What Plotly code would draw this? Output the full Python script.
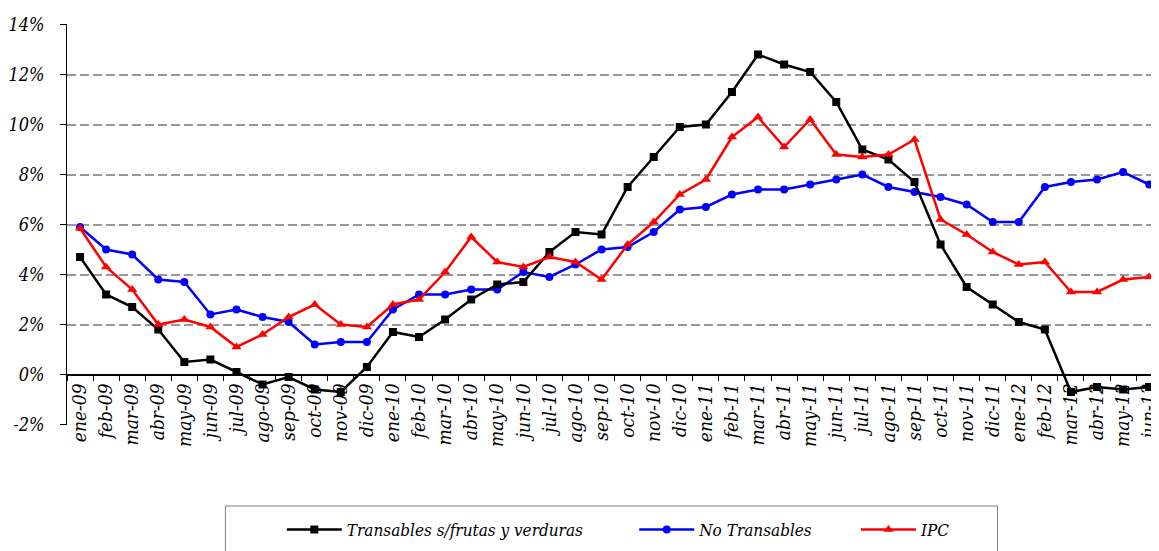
import plotly.graph_objects as go

months = ["ene", "feb", "mar", "abr", "may", "jun", "jul", "ago", "sep", "oct", "nov", "dic"]
categories = [f"{m}-{y}" for y in ["09", "10", "11", "12"] for m in months][:42]

transables = [4.7, 3.2, 2.7, 1.8, 0.5, 0.6, 0.1, -0.4, -0.1, -0.6, -0.7, 0.3,
              1.7, 1.5, 2.2, 3.0, 3.6, 3.7, 4.9, 5.7, 5.6, 7.5, 8.7, 9.9,
              10.0, 11.3, 12.8, 12.4, 12.1, 10.9, 9.0, 8.6, 7.7, 5.2, 3.5, 2.8,
              2.1, 1.8, -0.7, -0.5, -0.6, -0.5]
no_transables = [5.9, 5.0, 4.8, 3.8, 3.7, 2.4, 2.6, 2.3, 2.1, 1.2, 1.3, 1.3,
                 2.6, 3.2, 3.2, 3.4, 3.4, 4.1, 3.9, 4.4, 5.0, 5.1, 5.7, 6.6,
                 6.7, 7.2, 7.4, 7.4, 7.6, 7.8, 8.0, 7.5, 7.3, 7.1, 6.8, 6.1,
                 6.1, 7.5, 7.7, 7.8, 8.1, 7.6]
ipc = [5.85, 4.3, 3.4, 2.0, 2.2, 1.9, 1.1, 1.6, 2.3, 2.8, 2.0, 1.9,
       2.8, 3.0, 4.1, 5.5, 4.5, 4.3, 4.7, 4.5, 3.8, 5.2, 6.1, 7.2,
       7.8, 9.5, 10.3, 9.1, 10.2, 8.8, 8.7, 8.8, 9.4, 6.2, 5.6, 4.9,
       4.4, 4.5, 3.3, 3.3, 3.8, 3.9]

y_ticks = [-2, 0, 2, 4, 6, 8, 10, 12, 14]
y_tick_labels = ["-2%", "0%", "2%", "4%", "6%", "8%", "10%", "12%", "14%"]

FONT = "DejaVu Serif Condensed, DejaVu Serif"

# the page body has an 8px margin; compensate so the plot area lands at x 64..1159, y 24..425
W, H = 1151, 543
ML, MT, MR = 56, 16, 0
PW = W - ML - MR
PH = 401
MB = H - MT - PH

def px_x(x):
    return (x - 8 - ML) / PW

def px_y(y):
    return (MT + PH - (y - 8)) / PH

fig = go.Figure()
fig.add_trace(go.Scatter(
    x=categories, y=no_transables, name="No Transables", mode="lines+markers",
    line=dict(color="#0000FF", width=2.5), marker=dict(symbol="circle", size=8, color="#0000FF"),
    legend="legend2"))
fig.add_trace(go.Scatter(
    x=categories, y=transables, name="Transables s/frutas y verduras", mode="lines+markers",
    line=dict(color="#000000", width=2.5), marker=dict(symbol="square", size=8, color="#000000"),
    legend="legend"))
fig.add_trace(go.Scatter(
    x=categories, y=ipc, name="IPC", mode="lines+markers",
    line=dict(color="#FF0000", width=2.5), marker=dict(symbol="triangle-up", size=9, color="#FF0000"),
    legend="legend3"))

legend_common = dict(orientation="h", xanchor="left", yanchor="middle", y=px_y(530),
                     bgcolor="rgba(0,0,0,0)", borderwidth=0, itemwidth=55,
                     font=dict(family=FONT, size=17, color="black", style="italic"))

fig.update_layout(
    width=W, height=H,
    margin=dict(l=ML, r=MR, t=MT, b=MB, pad=0),
    paper_bgcolor="white", plot_bgcolor="white",
    showlegend=True,
    legend=dict(x=px_x(281), **legend_common),
    legend2=dict(x=px_x(637), **legend_common),
    legend3=dict(x=px_x(861), **legend_common),
    xaxis=dict(
        type="category", range=[-0.5, 41.07],
        anchor="free", position=0.125,
        showline=True, linecolor="black", linewidth=1,
        ticks="outside", ticklen=5, tickcolor="black", tickson="boundaries",
        tickangle=-90, showgrid=False, zeroline=False,
        tickfont=dict(family=FONT, size=19, color="black", style="italic"),
    ),
    yaxis=dict(
        range=[-2.02, 14.02], tickmode="array", tickvals=y_ticks, ticktext=y_tick_labels,
        showline=True, linecolor="black", linewidth=1,
        ticks="outside", ticklen=6, tickcolor="black",
        showgrid=True, gridcolor="#999999", gridwidth=2, griddash="9px,4px",
        zeroline=True, zerolinecolor="black", zerolinewidth=1,
        ticklabelstandoff=12,
        tickfont=dict(family=FONT, size=18, color="black", style="italic"),
    ),
    shapes=[dict(type="rect", xref="paper", yref="paper",
                 x0=px_x(224), x1=px_x(1004),
                 y0=px_y(600), y1=px_y(506),
                 line=dict(color="#808080", width=1), fillcolor="rgba(0,0,0,0)", layer="below")],
)

fig.write_html("out.html")
